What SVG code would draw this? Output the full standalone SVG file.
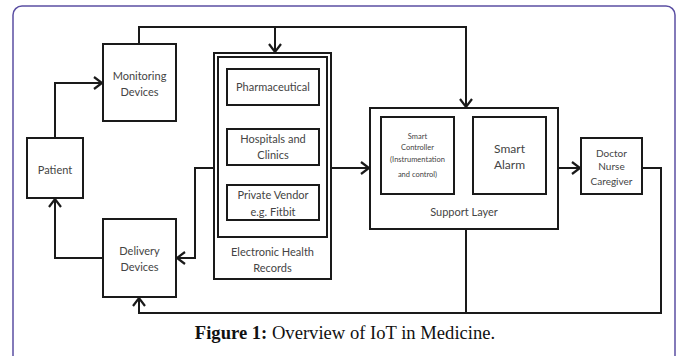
<svg xmlns="http://www.w3.org/2000/svg" width="681" height="356" viewBox="0 0 681 356">
<style>
.box{fill:#fff;stroke:#1a1a1a;stroke-width:2}
.ln{fill:none;stroke:#1a1a1a;stroke-width:2}
.t{font-family:Lato,"Open Sans","Liberation Sans",sans-serif;fill:#444;text-anchor:middle;font-size:11px}
.cap{font-family:"Liberation Serif","Times New Roman",serif;font-size:18.6px;fill:#111}
</style>
<defs>
<marker id="ar" markerUnits="userSpaceOnUse" markerWidth="12" markerHeight="14" refX="8" refY="6" orient="auto" overflow="visible">
<path d="M0,0 L8,6 L0,12" fill="none" stroke="#1a1a1a" stroke-width="2.2"/>
</marker>
</defs>
<rect x="0" y="0" width="681" height="356" fill="#fff"/>
<rect x="13" y="6" width="662" height="370" rx="9" fill="none" stroke="#5b4fa3" stroke-width="1.5"/>

<g id="connectors">
<path class="ln" d="M55,138 V83 H102" marker-end="url(#ar)"/>
<path class="ln" d="M103,258 H55 V199" marker-end="url(#ar)"/>
<path class="ln" d="M139,44 V27 H466 V107" marker-end="url(#ar)"/>
<path class="ln" d="M275,27 V52" marker-end="url(#ar)"/>
<path class="ln" d="M214,168 H195 V258 H177" marker-end="url(#ar)"/>
<path class="ln" d="M331,168 H369" marker-end="url(#ar)"/>
<path class="ln" d="M558,168 H580" marker-end="url(#ar)"/>
<path class="ln" d="M642,168 H661 V313 H139 V298" marker-end="url(#ar)"/>
<path class="ln" d="M466,229 V313"/>
</g>

<g id="patient">
<rect class="box" x="27" y="138" width="56" height="60"/>
<text class="t" x="55" y="174">Patient</text>
</g>
<g id="monitoring">
<rect class="box" x="103" y="44" width="73" height="77"/>
<text class="t" x="139.5" y="80">Monitoring</text>
<text class="t" x="139.5" y="96">Devices</text>
</g>
<g id="delivery">
<rect class="box" x="103" y="219" width="73" height="78"/>
<text class="t" x="139.5" y="255">Delivery</text>
<text class="t" x="139.5" y="271">Devices</text>
</g>
<g id="ehr">
<rect class="box" x="214" y="53" width="117" height="226"/>
<rect class="box" x="218" y="57" width="109" height="180"/>
<text class="t" x="272.5" y="256">Electronic Health</text>
<text class="t" x="272.5" y="272">Records</text>
</g>
<g id="pharma">
<rect class="box" x="227" y="69" width="92" height="36"/>
<text class="t" x="273" y="91">Pharmaceutical</text>
</g>
<g id="hospitals">
<rect class="box" x="227" y="129" width="92" height="36"/>
<text class="t" x="273" y="143">Hospitals and</text>
<text class="t" x="273" y="159">Clinics</text>
</g>
<g id="vendor">
<rect class="box" x="227" y="185" width="92" height="35"/>
<text class="t" x="273" y="199">Private Vendor</text>
<text class="t" x="273" y="216">e.g. Fitbit</text>
</g>
<g id="support">
<rect class="box" x="370" y="108" width="188" height="121"/>
<text class="t" x="464" y="216">Support Layer</text>
</g>
<g id="controller">
<rect class="box" x="381" y="117" width="73" height="77"/>
<text class="t" x="417.5" y="139" style="font-size:7.5px">Smart</text>
<text class="t" x="417.5" y="150" style="font-size:7.5px">Controller</text>
<text class="t" x="417.5" y="162" style="font-size:7.5px">(Instrumentation</text>
<text class="t" x="417.5" y="177" style="font-size:7.5px">and control)</text>
</g>
<g id="alarm">
<rect class="box" x="473" y="117" width="73" height="77"/>
<text class="t" x="509.5" y="153" style="font-size:12px">Smart</text>
<text class="t" x="509.5" y="169" style="font-size:12px">Alarm</text>
</g>
<g id="doctor">
<rect class="box" x="581" y="138" width="61" height="56"/>
<text class="t" x="611.5" y="157" style="font-size:10px">Doctor</text>
<text class="t" x="611.5" y="170" style="font-size:10px">Nurse</text>
<text class="t" x="611.5" y="185" style="font-size:10px">Caregiver</text>
</g>

<text class="cap" x="345" y="339" text-anchor="middle"><tspan font-weight="bold">Figure 1:</tspan> Overview of IoT in Medicine.</text>
</svg>
